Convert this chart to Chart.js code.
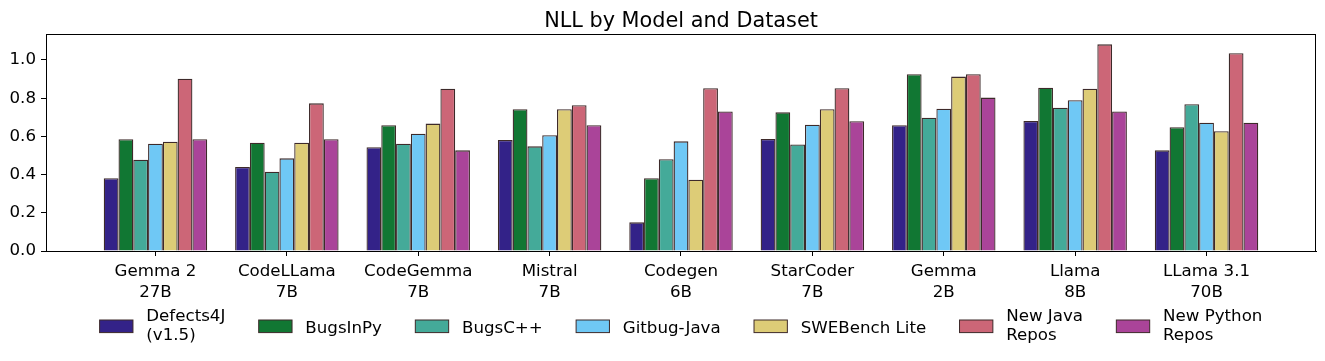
<!DOCTYPE html>
<html>
<head>
<meta charset="utf-8">
<script src="https://cdn.jsdelivr.net/npm/chart.js@4/dist/chart.umd.min.js"></script>
<style>
  html, body { margin: 0; padding: 0; background: #fff; }
  canvas { display: block; }
</style>
</head>
<body>
<canvas id="nllChart" width="1325" height="361"></canvas>
<script>
// modelos en el eje x (salto de linea = segunda linea de la etiqueta)
const models = ['Gemma 2\n27B', 'CodeLLama\n7B', 'CodeGemma\n7B', 'Mistral\n7B', 'Codegen\n6B',
                'StarCoder\n7B', 'Gemma\n2B', 'Llama\n8B', 'LLama 3.1\n70B']

// nombres de los datasets (series)
const datasetNames = ['Defects4J\n(v1.5)', 'BugsInPy', 'BugsC++', 'Gitbug-Java', 'SWEBench Lite',
                      'New Java\nRepos', 'New Python\nRepos']

// valores NLL, uno por modelo
const defects4j  = [0.381, 0.440, 0.543, 0.581, 0.150, 0.586, 0.658, 0.681, 0.527]
const bugsInPy   = [0.585, 0.567, 0.658, 0.742, 0.381, 0.726, 0.925, 0.855, 0.648]
const bugsCpp    = [0.478, 0.415, 0.562, 0.548, 0.480, 0.558, 0.698, 0.750, 0.768]
const gitbugJava = [0.562, 0.485, 0.614, 0.606, 0.574, 0.661, 0.745, 0.789, 0.672]
const sweBench   = [0.572, 0.567, 0.667, 0.742, 0.373, 0.742, 0.913, 0.850, 0.627]
const newJava    = [0.902, 0.773, 0.850, 0.763, 0.852, 0.852, 0.925, 1.082, 1.035]
const newPython  = [0.585, 0.585, 0.527, 0.658, 0.731, 0.679, 0.803, 0.731, 0.672]

const seriesValues = [defects4j, bugsInPy, bugsCpp, gitbugJava, sweBench, newJava, newPython]

// marcas del eje y
const yTicks = [0.0, 0.2, 0.4, 0.6, 0.8, 1.0]

const chartTitle = 'NLL by Model and Dataset'

const colors = ['#332288', '#117733', '#44AA99', '#6FC8F5', '#DDCC77', '#CC6677', '#AA4499']
const edgeColor = '#3d2a2a'
const FONT = 'DejaVu Sans'
const FS = 16.67

Chart.defaults.font.family = FONT

// ancho de barra y limites como lo hace matplotlib (margen 5%)
const barW = 0.1125
const half = barW * seriesValues.length / 2
const span = (models.length - 1) + 2 * half
const xMin = -half - 0.05 * span
const xMax = (models.length - 1) + half + 0.05 * span
const yMax = Math.max(...seriesValues.flat()) * 1.05

//marco completo alrededor del area del grafico + titulo centrado sobre el area
const framePlugin = {
    id: 'frame',
    afterDraw(chart){
        const a = chart.chartArea
        const ctx = chart.ctx
        ctx.save()
        ctx.strokeStyle = '#000'
        ctx.lineWidth = 1
        ctx.strokeRect(Math.round(a.left) + 0.5, Math.round(a.top) + 0.5,
                       Math.round(a.right - a.left) - 1, Math.round(a.bottom - a.top))
        ctx.fillStyle = '#000'
        ctx.font = '20.8px "' + FONT + '"'
        ctx.textAlign = 'center'
        ctx.textBaseline = 'alphabetic'
        ctx.fillText(chartTitle, (a.left + a.right) / 2, a.top - 7.5)
        ctx.restore()
    }
}

//leyenda abajo, en una fila, con etiquetas de dos lineas
const bottomLegend = {
    id: 'bottomLegend',
    afterDraw(chart){
        const ctx = chart.ctx
        const a = chart.chartArea
        ctx.save()
        ctx.font = FS + 'px "' + FONT + '"'
        const handleW = 2 * FS, textPad = 0.8 * FS, colGap = 2 * FS
        const items = chart.data.datasets.map(ds => {
            const lines = ds.label.split('\n')
            const w = Math.max(...lines.map(l => ctx.measureText(l).width))
            return {lines, w, color: ds.backgroundColor}
        })
        const total = items.reduce((s, it) => s + handleW + textPad + it.w, 0) + colGap * (items.length - 1)
        let x = (a.left + a.right) / 2 - total / 2
        const cy = a.bottom + 75.3
        ctx.textAlign = 'left'
        ctx.textBaseline = 'alphabetic'
        items.forEach(it => {
            ctx.fillStyle = it.color
            ctx.fillRect(x, cy - 6.3, handleW, 12.6)
            ctx.strokeStyle = edgeColor
            ctx.lineWidth = 1
            ctx.strokeRect(x, cy - 6.3, handleW, 12.6)
            ctx.fillStyle = '#000'
            const tx = x + handleW + textPad
            if(it.lines.length === 1){
                ctx.fillText(it.lines[0], tx, cy + 7)
            } else {
                ctx.fillText(it.lines[0], tx, cy - 5.6)
                ctx.fillText(it.lines[1], tx, cy + 13.4)
            }
            x += handleW + textPad + it.w + colGap
        })
        ctx.restore()
    }
}

const ctx = document.getElementById('nllChart').getContext('2d')

const chart = new Chart(ctx, {
    type: 'bar',
    data: {
        datasets: seriesValues.map((vals, i) => ({
            label: datasetNames[i],
            data: vals.map((v, j) => ({x: j, y: v})),
            backgroundColor: colors[i],
            borderColor: edgeColor,
            borderWidth: 1.3,
            categoryPercentage: barW * seriesValues.length,
            barPercentage: 1
        }))
    },
    options: {
        responsive: false,
        animation: false,
        devicePixelRatio: 1,
        layout: { padding: { left: 0, right: 9, top: 34, bottom: 60 } },
        plugins: {
            legend: { display: false },
            tooltip: { enabled: false },
            title: { display: false }
        },
        scales: {
            x: {
                type: 'linear',
                min: xMin,
                max: xMax,
                offset: false,
                grid: { offset: false, drawOnChartArea: false, drawTicks: true, tickLength: 5, color: '#000' },
                border: { color: '#000', width: 1 },
                afterBuildTicks: axis => { axis.ticks = models.map((_, i) => ({value: i})) },
                afterFit: scale => { scale.height = 50 },
                ticks: {
                    color: '#000',
                    font: { size: FS, lineHeight: 1.28 },
                    padding: 5,
                    autoSkip: false,
                    maxRotation: 0,
                    callback: v => models[v] ? models[v].split('\n') : ''
                }
            },
            y: {
                min: 0,
                max: yMax,
                grid: { drawOnChartArea: false, drawTicks: true, tickLength: 5, color: '#000' },
                border: { color: '#000', width: 1 },
                afterBuildTicks: axis => { axis.ticks = yTicks.map(v => ({value: v})) },
                afterFit: scale => { scale.width = 46 },
                ticks: {
                    color: '#000',
                    font: { size: FS },
                    padding: 5,
                    callback: v => v.toFixed(1)
                }
            }
        }
    },
    plugins: [framePlugin, bottomLegend]
})
</script>
</body>
</html>
